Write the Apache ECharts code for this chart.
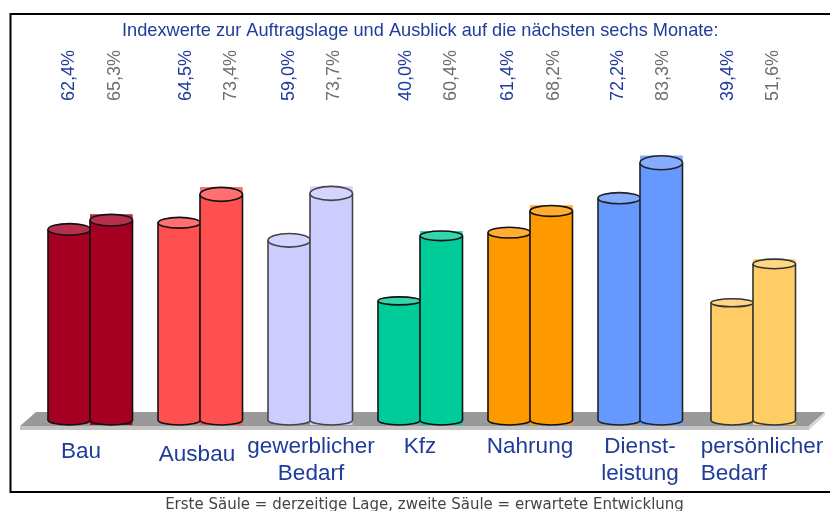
<!DOCTYPE html>
<html>
<head>
<meta charset="utf-8">
<style>html,body{margin:0;padding:0;background:#fff}#c{width:830px;height:511px}</style>
<script src="https://cdn.jsdelivr.net/npm/echarts@6/dist/echarts.min.js"></script>
</head>
<body>
<div id="c"></div>
<script>
const categories = ['Bau', 'Ausbau', 'gewerblicher\nBedarf', 'Kfz', 'Nahrung', 'Dienst-\nleistung', 'persönlicher\nBedarf'];
const currentValues = [62.4, 64.5, 59.0, 40.0, 61.4, 72.2, 39.4];
const expectedValues = [65.3, 73.4, 73.7, 60.4, 68.2, 83.3, 51.6];
const currentLabels = ['62,4%', '64,5%', '59,0%', '40,0%', '61,4%', '72,2%', '39,4%'];
const expectedLabels = ['65,3%', '73,4%', '73,7%', '60,4%', '68,2%', '83,3%', '51,6%'];
const titleText = 'Indexwerte zur Auftragslage und Ausblick auf die nächsten sechs Monate:';
const footerText = 'Erste Säule = derzeitige Lage, zweite Säule = erwartete Entwicklung';

const fills = ['#A50021', '#FF5050', '#CCCCFF', '#00CC99', '#FF9900', '#6699FF', '#FFCC66'];
const caps = ['#B5304C', '#FF7070', '#D4D4FF', '#33D6AD', '#FFAD33', '#85ADFF', '#FFD685'];
const edges = ['#111', '#111', '#444', '#111', '#111', '#222', '#333'];
const capRyFirst = [5.8, 5.4, 6.8, 4.0, 5.4, 5.6, 4.0];
const capRySecond = [5.8, 7, 7, 4.8, 5.4, 7, 4.8];
const barShift = [0, 0, 0, 0, 0, 0, 3];
const labelOffsetFirst = [-21, -14, -21, -14, -22, -22, -22];
const labelOffsetSecond = [25, 31, 24, 31, 24, 23, 23];
const catPadding = [[5, 18, 0, 0], [8, 6, 0, 0], [0, 0, 0, 2], [0, 0, 0, 0], [0, 0, 0, 0], [0, 0, 0, 0], [0, 0, 0, 24]];

const BLUE = '#1F3C9B', GREY = '#6E6E6E', FONT = '"Liberation Sans", Arial, sans-serif';

function cylinder(second) {
  const rys = second ? capRySecond : capRyFirst;
  return function (params, api) {
    const i = api.value(0);
    const c = api.coord([i, 0]);
    const t = api.coord([i, api.value(1)]);
    const left = c[0] + barShift[i] + (second ? 0 : -42), w = 42.5, rx = w / 2, cx = left + rx;
    const ry = rys[i], botY = c[1] - 8.5, botRy = 5;
    const edge = { stroke: edges[i], lineWidth: 1.6 };
    const kids = [];
    if (second) {
      kids.push({ type: 'rect', shape: { x: left, y: t[1] - ry, width: w, height: botY + botRy - t[1] + ry }, style: { fill: fills[i] } });
      kids.push({ type: 'rect', shape: { x: left, y: t[1] - ry, width: w, height: 2 * ry + 1 }, style: { fill: caps[i] } });
    }
    kids.push({ type: 'ellipse', shape: { cx: cx, cy: botY, rx: rx, ry: botRy }, style: { fill: fills[i], stroke: edge.stroke, lineWidth: edge.lineWidth } });
    kids.push({ type: 'rect', shape: { x: left, y: t[1], width: w, height: botY - t[1] }, style: { fill: fills[i] } });
    kids.push({ type: 'line', shape: { x1: left, y1: t[1], x2: left, y2: botY }, style: edge });
    kids.push({ type: 'line', shape: { x1: left + w, y1: t[1], x2: left + w, y2: botY }, style: edge });
    kids.push({ type: 'ellipse', shape: { cx: cx, cy: t[1], rx: rx, ry: ry }, style: { fill: caps[i], stroke: edge.stroke, lineWidth: edge.lineWidth } });
    return { type: 'group', children: kids };
  };
}

function rotatedLabel(texts, offsets, color) {
  return function (params, api) {
    const i = api.value(0);
    const c = api.coord([i, 0]);
    return {
      type: 'text', x: c[0] + offsets[i], y: 75.5, rotation: Math.PI / 2,
      style: { text: texts[i], fill: color, font: '18px ' + FONT, align: 'center', verticalAlign: 'middle' }
    };
  };
}

const catFont = { color: BLUE, fontSize: 22.5, fontFamily: FONT, lineHeight: 27 };
const chart = echarts.init(document.getElementById('c'), null, { renderer: 'canvas' });
chart.setOption({
  animation: false,
  backgroundColor: '#fff',
  title: {
    text: titleText, left: 117, top: 17,
    textStyle: { color: BLUE, fontSize: 18.2, fontWeight: 'normal', fontFamily: FONT }
  },
  grid: { left: 35, width: 770, top: 109.5, bottom: 82.5 },
  xAxis: {
    type: 'category',
    data: categories.map((c, i) => ({ value: c, textStyle: { padding: catPadding[i] } })),
    axisLine: { show: false }, axisTick: { show: false },
    axisLabel: Object.assign({
      interval: 0, margin: 5, align: 'center', verticalAlign: 'top',
      formatter: (v, i) => i === categories.length - 1 ? v.split('\n').map(s => '{l|' + s + '}').join('\n') : v,
      rich: { l: Object.assign({ align: 'left' }, catFont) }
    }, catFont)
  },
  yAxis: { type: 'value', min: 0, max: 100, show: false },
  graphic: [
    { type: 'polygon', z: 0, shape: { points: [[36, 412], [825, 412], [809, 426], [20, 426]] }, style: { fill: '#999999' } },
    { type: 'rect', z: 0, shape: { x: 20, y: 426, width: 789, height: 4 }, style: { fill: '#C4C4C4' } },
    { type: 'polygon', z: 0, shape: { points: [[825, 412], [825, 415], [809, 430], [809, 426]] }, style: { fill: '#D8D8D8' } },
    { type: 'polyline', z: 100, shape: { points: [[830, 14], [10.5, 14], [10.5, 492], [830, 492]] }, style: { fill: 'none', stroke: '#000', lineWidth: 2 } },
    { type: 'text', x: 424.5, y: 505, z: 100, style: { text: footerText, fill: '#444', font: '15px "DejaVu Sans", sans-serif', align: 'center', verticalAlign: 'middle' } }
  ],
  series: [
    { type: 'custom', name: 'Derzeitige Lage', z: 2, coordinateSystem: 'cartesian2d', renderItem: cylinder(false), encode: { x: 0, y: 1 }, data: currentValues.map((v, i) => [i, v]) },
    { type: 'custom', name: 'Erwartete Entwicklung', z: 3, coordinateSystem: 'cartesian2d', renderItem: cylinder(true), encode: { x: 0, y: 1 }, data: expectedValues.map((v, i) => [i, v]) },
    { type: 'custom', z: 4, coordinateSystem: 'cartesian2d', silent: true, clip: false, renderItem: rotatedLabel(currentLabels, labelOffsetFirst, BLUE), encode: { x: 0, y: 1 }, data: currentValues.map((v, i) => [i, v]) },
    { type: 'custom', z: 4, coordinateSystem: 'cartesian2d', silent: true, clip: false, renderItem: rotatedLabel(expectedLabels, labelOffsetSecond, GREY), encode: { x: 0, y: 1 }, data: expectedValues.map((v, i) => [i, v]) }
  ]
});
</script>
</body>
</html>
